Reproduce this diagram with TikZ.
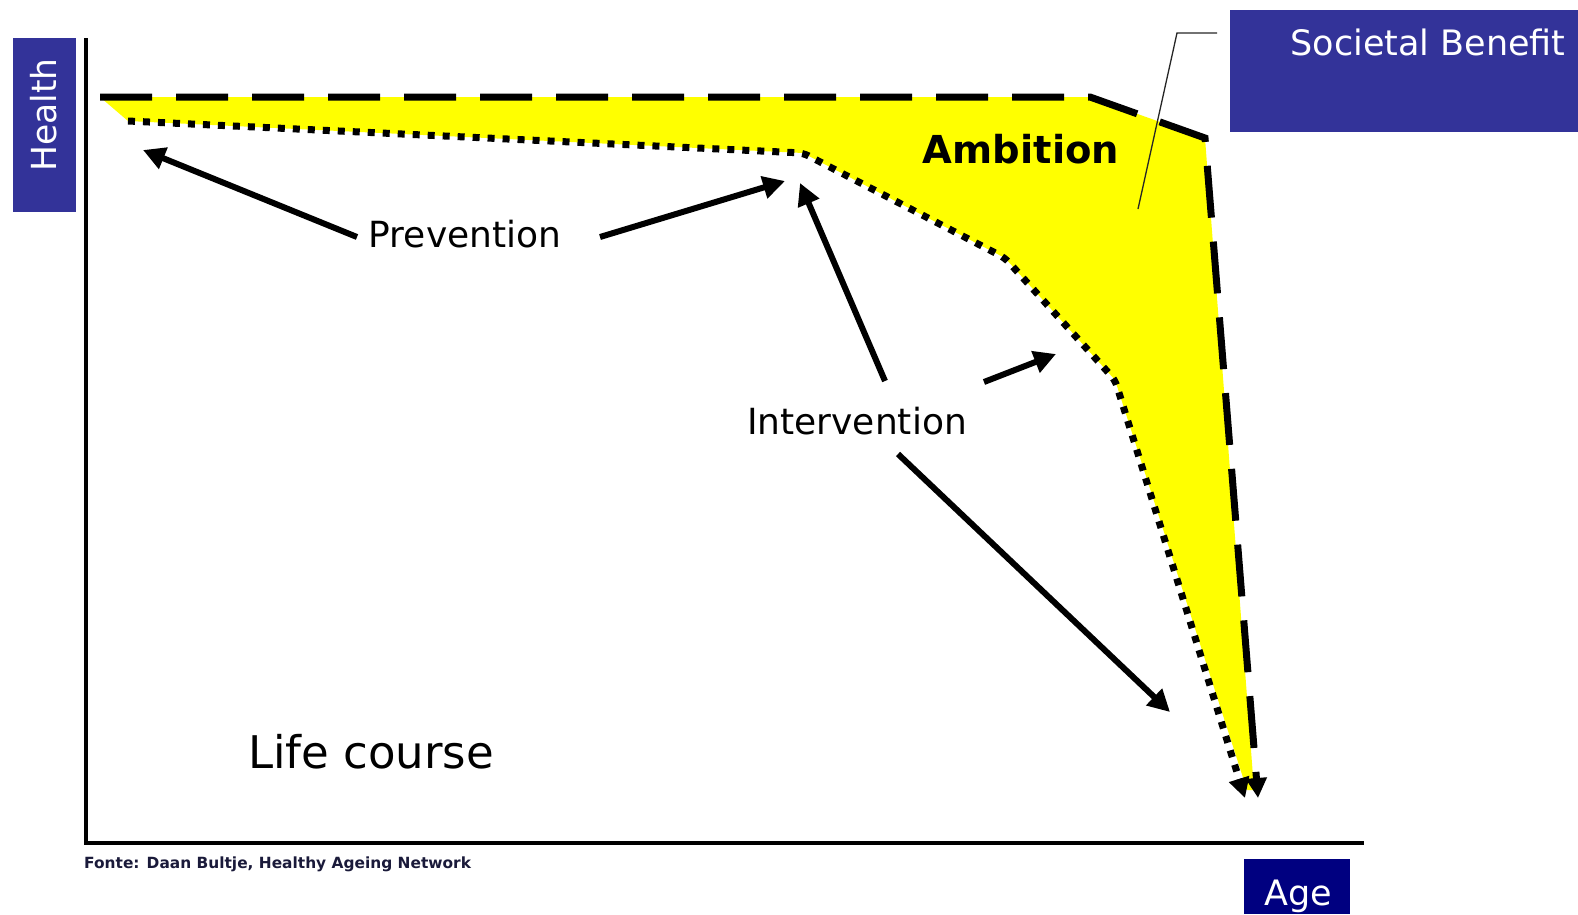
\documentclass[tikz,border=0pt]{standalone}
\usepackage{fontspec}
\setmainfont{DejaVu Sans}
\usetikzlibrary{arrows.meta}
\definecolor{boxblue}{HTML}{333399}
\definecolor{agenavy}{HTML}{000080}
\definecolor{ambyellow}{HTML}{FFFF00}
\definecolor{fontecol}{HTML}{1A1A3A}
\tikzset{
  lbl/.style={inner sep=0pt, font=\fontsize{36}{42}\selectfont},
  bluebox/.style={fill=boxblue, draw=none},
  fatarrow/.style={line width=6pt, -{Triangle[length=22pt,width=22pt]}},
  dashline/.style={line width=7pt, dash pattern=on 52pt off 24pt, -{Triangle[length=20pt,width=20pt]}},
  dotline/.style={line width=7pt, dash pattern=on 7pt off 8pt, -{Triangle[length=20pt,width=20pt]}},
  axisline/.style={line width=4.5pt, line cap=rect}
}
\begin{document}
\begin{tikzpicture}[x=1pt,y=-1pt]
\useasboundingbox (0,0) rectangle (1578,914);
% yellow area
\fill[ambyellow] (100,97) -- (1090,97) -- (1205,138) -- (1254,790) -- (1247,790)
  -- (1115,380) -- (1005,258) -- (803,153) -- (128,121) -- cycle;
% axes
\coordinate (ytop) at (86,40);
\coordinate (orig) at (86,843);
\coordinate (xend) at (1362,843);
\draw[axisline] (ytop) -- (orig) -- (xend);
% curves
\coordinate (da) at (100,97);
\coordinate (db) at (1090,97);
\coordinate (dc) at (1205,138);
\coordinate (dd) at (1258,798);
\draw[dashline] (da) -- (db) -- (dc) -- (dd);
\coordinate (pa) at (128,121);
\coordinate (pb) at (803,153);
\coordinate (pc) at (1005,258);
\coordinate (pd) at (1115,380);
\coordinate (pe) at (1245,798);
\draw[dotline, rounded corners=6pt] (pa) -- (pb) -- (pc) -- (pd) -- (pe);
% boxes
\fill[bluebox] (13,38) rectangle (76,212);
\node[lbl, text=white, rotate=90, font=\fontsize{34.5}{40}\selectfont] (health) at (44,115) {Health};
\fill[bluebox] (1230,10) rectangle (1578,132);
\node[lbl, text=white, font=\fontsize{35}{40}\selectfont] (soc) at (1428,42) {Societal Benefit};
\fill[agenavy] (1244,859) rectangle (1350,914);
\node[lbl, text=white, font=\fontsize{35}{40}\selectfont] (age) at (1298,896) {Age};
% callout
\coordinate (c1) at (1217,33);
\coordinate (c2) at (1177,33);
\coordinate (c3) at (1138,209);
\draw[line width=1.3pt, black!85] (c1) -- (c2) -- (c3);
% labels
\node[lbl] (prev) at (465,234) {Prevention};
\node[lbl] (interv) at (857,421) {Intervention};
\node[lbl, font=\fontsize{38.5}{44}\selectfont\bfseries] (amb) at (1021,149) {Ambition};
\node[lbl, font=\fontsize{45}{52}\selectfont] (life) at (371,752) {Life course};
\node[lbl, anchor=west, text=fontecol, font=\fontsize{15.4}{18}\selectfont\bfseries] (fonte) at (84,864) {Fonte: Daan Bultje, Healthy Ageing Network};
% arrows
\coordinate (t1) at (357,237);
\coordinate (h1) at (143,150);
\coordinate (t2) at (600,237);
\coordinate (h2) at (785,181);
\coordinate (t3) at (885,381);
\coordinate (h3) at (800,183);
\coordinate (t4) at (984,382);
\coordinate (h4) at (1056,354);
\coordinate (t5) at (898,454);
\coordinate (h5) at (1170,712);
\draw[fatarrow] (t1) -- (h1);
\draw[fatarrow] (t2) -- (h2);
\draw[fatarrow] (t3) -- (h3);
\draw[fatarrow] (t4) -- (h4);
\draw[fatarrow] (t5) -- (h5);
\end{tikzpicture}
\end{document}
